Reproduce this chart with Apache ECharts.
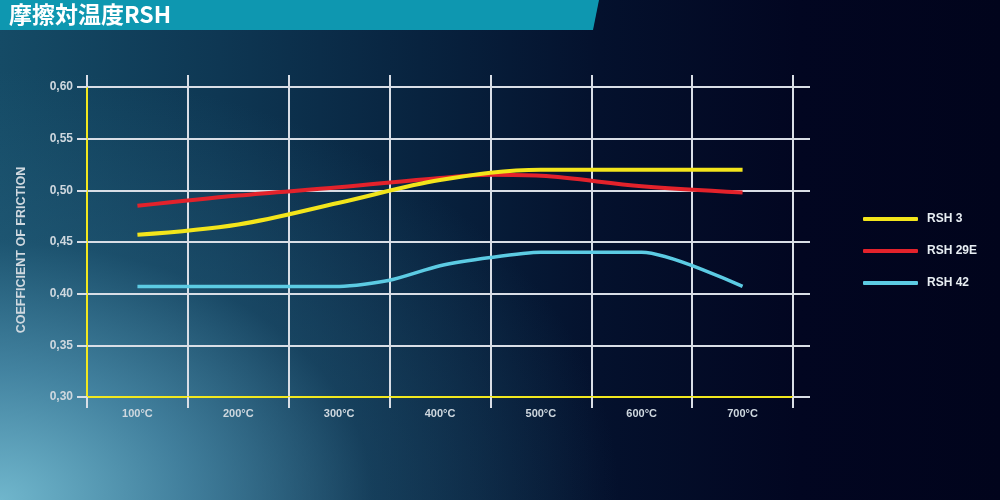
<!DOCTYPE html>
<html>
<head>
<meta charset="utf-8">
<script src="https://cdn.jsdelivr.net/npm/echarts@6/dist/echarts.min.js"></script>
<style>
html,body{margin:0;padding:0;}
#bg{position:absolute;left:0;top:0;width:1000px;height:500px;
background:
 radial-gradient(ellipse 620px 430px at 0% 100%, rgba(112,182,204,1) 0%, rgba(82,150,180,0.75) 30%, rgba(45,105,135,0.35) 60%, rgba(30,80,110,0) 100%),
 linear-gradient(to right, #154b66 0%, #0e3753 22%, #08233f 42%, #04112d 60%, #020621 80%, #01041c 100%);}
#chart{position:absolute;left:0;top:0;width:1000px;height:500px;}
</style>
</head>
<body>
<div id="bg"></div>
<div id="chart"></div>
<script>
// Data
const categories = ['100°C','200°C','300°C','400°C','500°C','600°C','700°C'];
const yTicks = [0.30, 0.35, 0.40, 0.45, 0.50, 0.55, 0.60];
const seriesNames = ['RSH 3', 'RSH 29E', 'RSH 42'];
// [temperature °C, coefficient]
const rsh3 = [[100,0.457],[200,0.467],[300,0.488],[400,0.510],[500,0.520],[600,0.520],[700,0.520]];
const rsh29e = [[100,0.485],[200,0.495],[300,0.503],[400,0.512],[450,0.515],[500,0.514],[600,0.504],[700,0.498]];
const rsh42 = [[100,0.407],[200,0.407],[300,0.407],[350,0.413],[400,0.427],[450,0.435],[500,0.440],[600,0.440],[700,0.407]];

const chart = echarts.init(document.getElementById('chart'), null, {renderer:'canvas'});
const gridColor = '#d9dee6';
const labelColor = '#cfd8df';
const font = 'Liberation Sans, Arial, sans-serif';

chart.setOption({
  backgroundColor: 'transparent',
  animation: false,
  textStyle: {fontFamily: font},
  graphic: [
    {type:'polygon', shape:{points:[[0,0],[599,0],[593,30],[0,30]]}, style:{fill:'#0e97b0'}, z:10},
    {type:'text', left:9, top:3, style:{text:'摩擦対温度RSH', fill:'#ffffff', font:'bold 23px "Noto Sans CJK JP", sans-serif'}, z:11}
  ],
  grid: {left:87, right:207, top:87, bottom:103, containLabel:false},
  legend: {
    orient:'vertical', left:858, top:208, itemWidth:55, itemHeight:4, itemGap:20,
    icon:'roundRect',
    textStyle:{color:'#e8eef3', fontSize:12, fontWeight:'bold', fontFamily:font, padding:[0,0,0,4]},
    data: seriesNames
  },
  xAxis: [
    {type:'category', data:categories, position:'bottom', boundaryGap:true,
     axisLine:{show:true, lineStyle:{color:'#f2e81e', width:2}},
     axisTick:{show:true, length:11, lineStyle:{color:gridColor, width:2}},
     splitLine:{show:true, lineStyle:{color:gridColor, width:2}},
     axisLabel:{color:labelColor, fontSize:11, fontWeight:'bold', margin:11, fontFamily:font}},
    {type:'category', data:categories, position:'top', boundaryGap:true,
     axisLine:{show:false},
     axisTick:{show:true, length:12, lineStyle:{color:gridColor, width:2}},
     splitLine:{show:false}, axisLabel:{show:false}},
    {type:'value', min:50, max:750, show:false}
  ],
  yAxis: [
    {type:'value', min:0.30, max:0.60, interval:0.05, position:'left',
     name:'COEFFICIENT OF FRICTION', nameLocation:'middle', nameGap:59, nameRotate:90,
     nameTextStyle:{color:labelColor, fontSize:12.5, fontWeight:'bold', fontFamily:font, padding:[0,16,0,0]},
     axisLine:{show:true, lineStyle:{color:'#f2e81e', width:2}},
     axisTick:{show:true, length:10, lineStyle:{color:gridColor, width:2}},
     splitLine:{show:true, lineStyle:{color:gridColor, width:2}},
     axisLabel:{color:labelColor, fontSize:12, fontWeight:'bold', margin:14, fontFamily:font,
       formatter: v => v.toFixed(2).replace('.', ',')}},
    {type:'value', min:0.30, max:0.60, interval:0.05, position:'right',
     axisLine:{show:false},
     axisTick:{show:true, length:17, lineStyle:{color:gridColor, width:2}},
     splitLine:{show:false}, axisLabel:{show:false}}
  ],
  series: [
    {name:seriesNames[0], type:'line', xAxisIndex:2, yAxisIndex:0, data:rsh3, smooth:0.35,
     showSymbol:false, symbol:'none', lineStyle:{color:'#f3e51b', width:4}, itemStyle:{color:'#f3e51b'}, z:5},
    {name:seriesNames[1], type:'line', xAxisIndex:2, yAxisIndex:0, data:rsh29e, smooth:0.35,
     showSymbol:false, symbol:'none', lineStyle:{color:'#e3222b', width:4}, itemStyle:{color:'#e3222b'}, z:4},
    {name:seriesNames[2], type:'line', xAxisIndex:2, yAxisIndex:0, data:rsh42, smooth:0.25,
     showSymbol:false, symbol:'none', lineStyle:{color:'#5ccbe3', width:3.5}, itemStyle:{color:'#5ccbe3'}, z:3}
  ]
});
</script>
</body>
</html>
